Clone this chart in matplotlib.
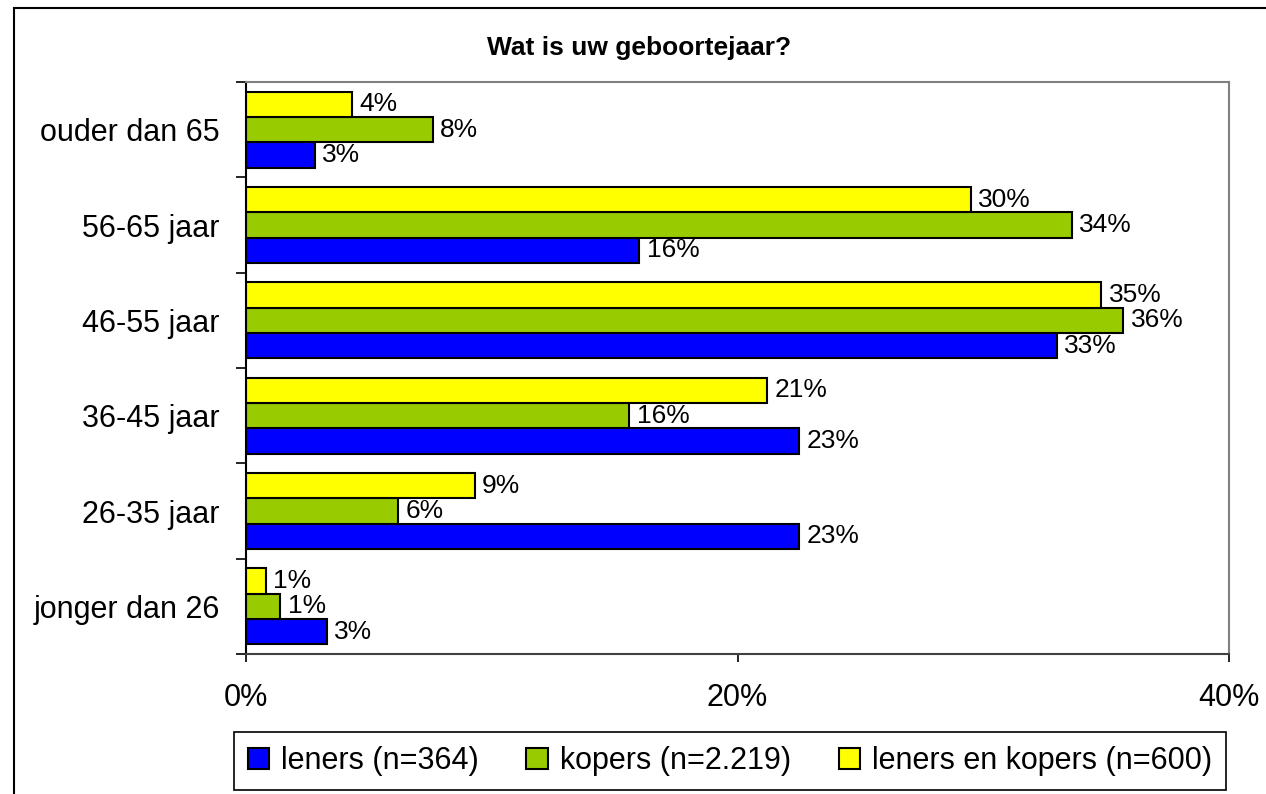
import numpy as np
import matplotlib.pyplot as plt
from matplotlib.patches import Rectangle
from matplotlib.ticker import FixedLocator

plt.rcParams['font.family'] = ['Liberation Sans', 'DejaVu Sans']

# categories from bottom to top
categories = ['jonger dan 26', '26-35 jaar', '36-45 jaar', '46-55 jaar', '56-65 jaar', 'ouder dan 65']
leners = [3.3, 22.5, 22.5, 33.0, 16.0, 2.8]
kopers = [1.4, 6.2, 15.6, 35.7, 33.6, 7.6]
beide = [0.8, 9.3, 21.2, 34.8, 29.5, 4.3]
labels_leners = ['3%', '23%', '23%', '33%', '16%', '3%']
labels_kopers = ['1%', '6%', '16%', '36%', '34%', '8%']
labels_beide = ['1%', '9%', '21%', '35%', '30%', '4%']
series_names = ['leners (n=364)', 'kopers (n=2.219)', 'leners en kopers (n=600)']
colors = ['#0000FF', '#99CC00', '#FFFF00']

fig = plt.figure(figsize=(12.66, 7.94), dpi=100)
ax = fig.add_axes([0.1943, 0.1763, 0.9708 - 0.1943, 0.8967 - 0.1763])

y = np.arange(len(categories))
h = 0.265
series = [(leners, labels_leners), (kopers, labels_kopers), (beide, labels_beide)]
handles = []
for i, (vals, labs) in enumerate(series):
    pos = y + (i - 1) * h
    bars = ax.barh(pos, vals, height=h, color=colors[i], edgecolor='black',
                   linewidth=1.5, label=series_names[i])
    handles.append(bars)
    for p, v, t in zip(pos, vals, labs):
        ax.text(v + 0.3, p, t, va='center', ha='left', fontsize=19)

ax.set_xlim(0, 40)
ax.set_ylim(-0.5, len(categories) - 0.5)
ax.set_xticks([0, 20, 40])
ax.set_xticklabels(['0%', '20%', '40%'], fontsize=22)
ax.set_yticks(y)
ax.set_yticklabels(categories, fontsize=22)
ax.yaxis.set_minor_locator(FixedLocator(np.arange(-0.5, len(categories), 1.0)))
ax.tick_params(axis='y', which='major', length=0, pad=19)
ax.tick_params(axis='y', which='minor', length=7, width=1.2, direction='out')
ax.tick_params(axis='x', which='major', length=6, width=1.2, direction='out', pad=15)

for s in ['top', 'right', 'bottom']:
    ax.spines[s].set_color('#808080')
    ax.spines[s].set_linewidth(1.5)
ax.spines['left'].set_color('black')
ax.spines['left'].set_linewidth(1.5)
ax.spines['bottom'].set_color('#404040')

fig.text(0.505, 0.94, 'Wat is uw geboortejaar?', ha='center', va='center',
         fontsize=19, fontweight='bold')

leg = fig.legend(handles=handles, labels=series_names, loc='center',
                 bbox_to_anchor=(0.5766, 0.0416), ncol=3, fontsize=22,
                 frameon=True, fancybox=False, edgecolor='black', framealpha=1,
                 handlelength=0.7, handleheight=0.7, handletextpad=0.4,
                 columnspacing=1.55, borderpad=0.45)
leg.get_frame().set_linewidth(1.2)

# outer chart border
fig.patches.append(Rectangle((14 / 1266, -0.1), 1.2, 1 - 8 / 794 + 0.1,
                             transform=fig.transFigure, fill=False,
                             edgecolor='black', linewidth=1.5))

fig.savefig('out.png', dpi=100)
